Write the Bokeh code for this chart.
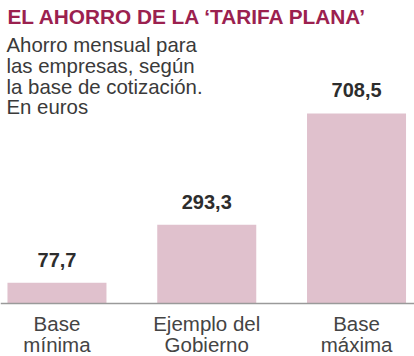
from bokeh.plotting import figure
from bokeh.models import Range1d, Label, Span, ColumnDataSource
from bokeh.core.properties import value
from bokeh.embed import file_html
from bokeh.resources import INLINE

title_text = "EL AHORRO DE LA \u2018TARIFA PLANA\u2019"
subtitle_lines = ["Ahorro mensual para", "las empresas, según",
                  "la base de cotización.", "En euros"]
categories = ["Base\nmínima", "Ejemplo del\nGobierno", "Base\nmáxima"]
values = [77.7, 293.3, 708.5]

FONT = "Liberation Sans"
W, H = 414, 356

xs = list(range(len(categories)))
line1 = [c.split("\n")[0] for c in categories]
line2 = [c.split("\n")[1] for c in categories]
labels = [f"{v:.1f}".replace(".", ",") for v in values]

src = ColumnDataSource(dict(x=xs, top=values, lab=labels, l1=line1, l2=line2,
                            zero=[0] * len(xs)))

p = figure(width=W, height=H, output_backend="svg", toolbar_location=None,
           x_range=Range1d(-0.377, 2.387), y_range=Range1d(-197.6, 1129.8),
           min_border=0, outline_line_color=None)
p.axis.visible = False
p.grid.visible = False
p.background_fill_color = "white"
p.border_fill_color = "white"

p.vbar(x="x", top="top", bottom=0, width=0.661, source=src,
       fill_color="#e0c1cd", line_color=None)

p.add_layout(Span(location=0, dimension="width", line_color="#9a9a9a",
                  line_width=1.5))

p.text(x="x", y="top", text="lab", source=src, y_offset=-23,
       text_align="center", text_baseline="middle",
       text_font=value(FONT), text_font_size="20px", text_font_style="bold",
       text_color="#2d2d2d")

p.text(x="x", y="zero", text="l1", source=src, y_offset=20,
       text_align="center", text_baseline="middle",
       text_font=value(FONT), text_font_size="20.5px", text_color="#444444")
p.text(x="x", y="zero", text="l2", source=src, y_offset=41,
       text_align="center", text_baseline="middle",
       text_font=value(FONT), text_font_size="20.5px", text_color="#444444")

p.add_layout(Label(x=7, y=H - 16, x_units="screen", y_units="screen",
                   text=title_text, text_font=FONT, text_font_size="20.8px",
                   text_font_style="bold", text_color="#9b214f",
                   text_baseline="middle"))

for i, line in enumerate(subtitle_lines):
    p.add_layout(Label(x=6, y=H - 44.5 - 20.8 * i, x_units="screen", y_units="screen",
                       text=line, text_font=FONT, text_font_size="20.4px",
                       text_color="#3a3a3a", text_baseline="middle"))

open("out.html", "w").write(file_html(p, INLINE))
